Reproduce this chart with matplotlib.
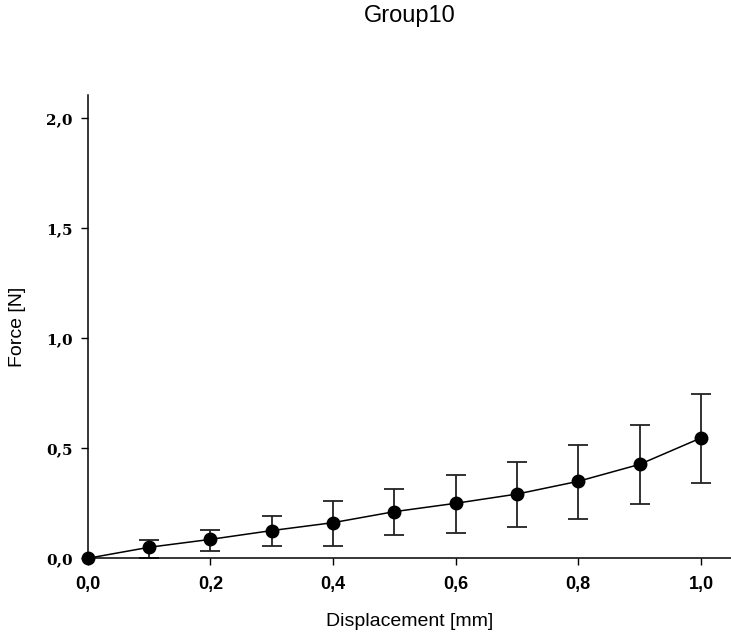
import matplotlib
matplotlib.use("Agg")
import matplotlib.pyplot as plt
import numpy as np

# Data
displacement = [0.0, 0.1, 0.2, 0.3, 0.4, 0.5, 0.6, 0.7, 0.8, 0.9, 1.0]
force = [0.0, 0.050, 0.086, 0.126, 0.162, 0.212, 0.250, 0.292, 0.350, 0.427, 0.547]
err_top = [0.0, 0.083, 0.129, 0.191, 0.262, 0.315, 0.380, 0.439, 0.514, 0.605, 0.748]
err_bottom = [0.0, 0.003, 0.033, 0.057, 0.057, 0.106, 0.115, 0.144, 0.177, 0.247, 0.342]

x_ticks = [0.0, 0.2, 0.4, 0.6, 0.8, 1.0]
y_ticks = [0.0, 0.5, 1.0, 1.5, 2.0]

force = np.array(force)
yerr = [force - np.array(err_bottom), np.array(err_top) - force]

fig = plt.figure(figsize=(7.31, 6.39), dpi=100)
ax = fig.add_axes([0.12, 0.1263, 0.88, 0.725])

# error bars (skip the origin point, it has none)
ax.errorbar(displacement[1:], force[1:], yerr=[yerr[0][1:], yerr[1][1:]],
            fmt='none', ecolor='#222222', elinewidth=1.3, capsize=7, capthick=1.3,
            clip_on=False, zorder=2)
ax.plot(displacement, force, color='black', lw=1.1, marker='o', markersize=9,
        markerfacecolor='black', markeredgecolor='black', clip_on=False, zorder=3)

ax.set_xlim(0, 1.049)
ax.set_ylim(0, 2.106)

ax.set_xticks(x_ticks)
ax.set_yticks(y_ticks)
ax.set_xticklabels([f"{v:.1f}".replace('.', ',') for v in x_ticks],
                   fontfamily='Liberation Sans', fontweight='bold', fontsize=13)
ax.set_yticklabels([f"{v:.1f}".replace('.', ',') for v in y_ticks],
                   fontfamily='DejaVu Serif', fontweight='bold', fontsize=11)
ax.tick_params(axis='both', direction='out', length=5, width=1, color='black')
ax.tick_params(axis='x', pad=8)
ax.tick_params(axis='y', pad=6)

ax.spines['top'].set_visible(False)
ax.spines['right'].set_visible(False)
ax.spines['left'].set_linewidth(1.1)
ax.spines['bottom'].set_linewidth(1.1)

ax.set_xlabel('Displacement [mm]', fontfamily='Liberation Sans', fontsize=14, labelpad=14)
ax.set_ylabel('Force [N]', fontfamily='Liberation Sans', fontsize=14, labelpad=14)

fig.text(0.56, 0.992, 'Group10', fontfamily='Liberation Sans', fontsize=17,
         ha='center', va='top')

fig.savefig('out.png', dpi=100)
